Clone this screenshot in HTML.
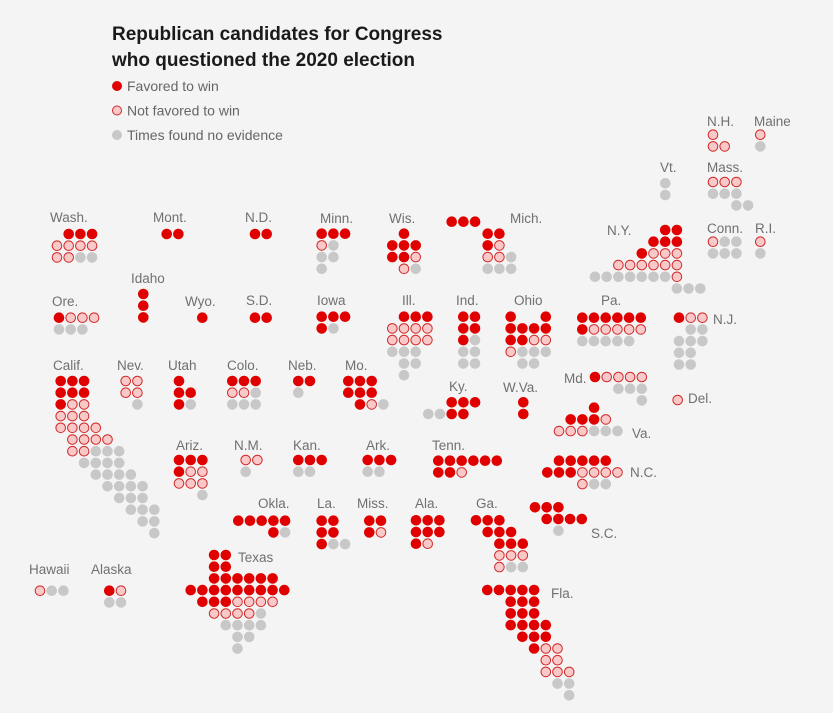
<!DOCTYPE html>
<html><head><meta charset="utf-8"><style>
body{margin:0;background:#f4f4f4;}
#wrap{position:relative;width:833px;height:713px;overflow:hidden;background:#f4f4f4;font-family:"Liberation Sans",sans-serif;}
svg{position:absolute;left:0;top:0;}
.t{font-family:"Liberation Sans",sans-serif;font-weight:bold;font-size:19px;fill:#1a1a1a;}
.lg{font-size:14px;fill:#666;}
.lb{font-size:13.5px;fill:#707070;}
</style></head><body>
<div id="wrap">
<svg id="s" width="833" height="713">
<text class="t" x="112" y="40">Republican candidates for Congress</text>
<text class="t" x="112" y="66">who questioned the 2020 election</text>
<g>
<circle cx="117" cy="86" r="5" fill="#e00000"/>
<text class="lg" x="127" y="91">Favored to win</text>
<circle cx="117" cy="110.5" r="4.5" fill="#f9c8c8" stroke="#d02828" stroke-width="1"/>
<text class="lg" x="127" y="115.5">Not favored to win</text>
<circle cx="117" cy="135" r="5" fill="#c8c8c8"/>
<text class="lg" x="127" y="140">Times found no evidence</text>
</g>
</svg>
</div>
<script>
// Data: state names, dot patterns (R favored, P not favored, G no evidence)
const states = ["Wash.","Mont.","N.D.","Idaho","Ore.","Wyo.","S.D.","Minn.","Wis.","Mich.top","Mich.","Iowa","Ill.","Ind.","Ohio","N.H.","Maine","Vt.","Mass.","N.Y.","Conn.","R.I.","Calif.","Nev.","Utah","Colo.","Neb.","Mo.","Ariz.","N.M.","Kan.","Ark.","Okla.","La.","Miss.","Pa.","N.J.","Md.","Del.","Ky.","W.Va.","Va.","Tenn.","N.C.","Hawaii","Alaska","Texas","Ala.","Ga.","S.C.","Fla."];
const patterns = [
[".RRR","PPPP","PPGG"],["RR"],["RR"],["R","R","R"],["RPPP","GGG"],["R"],["RR"],
["RRR","PG","GG","G"],[".R.","RRR","RRP",".PG"],["RRR"],["RR.","RP.","PPG","GGG"],
["RRR","RG"],[".RRR","PPPP","PPPP","GGG.",".GG.",".G.."],["RR","RR","RG","GG","GG"],
["R..R","RRRR","RRPP","PGGG",".GG."],
["P.","PP"],["P","G"],["G","G"],["PPP.","GGG.","..GG"],
["......RR",".....RRR","....RPPP","..PPPPPP","GGGGGGGP",".......GGG"],["PGG","GGG"],["P","G"],
["RRR","RRR","RPP","PPP","PPPP",".PPPP",".PPGGG","..GGGG","...GGGG","....GGGG",".....GGG","......GGG",".......GG","........G"],
["PP","PP",".G"],["R.","RR","RG"],["RRR","PPG","GGG"],["RR","G"],["RRR","RRR",".RPG"],
["RRR","RPP","PPP","..G"],["PP","G"],["RRR","GG"],["RRR","GG"],
["RRRRR","...RG"],["RR","RR","RGG"],["RR","RP"],
["RRRRRR","RPPPPP","GGGGG"],["RPP",".GG","GGG","GG","GG"],["RPPPP","..GGG","....G"],["P"],
["..RRR","GGRR"],["R","R"],["...R",".RRRP","PPPGGG"],["RRRRRR","RRP"],
[".RRRRR","RRRPPPP","...PGG"],
["PGG"],["RP","GG"],
["..RR","..RR","..RRRRRR","RRRRRRRRR",".RRRPPPP","..PPPPG","...GGGG","....GG","....G"],
["RRR","RRR","RP"],["RRR.",".RRR","..RRR","..PPP","..PGG"],["RRR",".RRRR","..G"],
["RRRRR","..RRR","..RRR","..RRRR","...RRR","....RPP",".....PP",".....PPP","......GG",".......G"]
];
// layout (not data): grid origins per state
const origins = [[57,234],[166.7,234],[255,234],[143.3,294],[59,317.7],[202.3,317.7],[255,317.7],
[321.7,233.7],[392.3,233.7],[451.7,221.7],[487.7,233.7],[321.7,316.7],[392.3,316.7],[463.3,316.7],[510.7,316.7],
[713,134.7],[760.3,134.7],[665.3,183.3],[713,182],[595,230],[713,241.7],[760.3,241.7],
[60.7,381],[125.7,381],[179,381],[232.3,381],[298.3,381],[348.3,381],[179,460],[245.7,460],[298.3,460],[367.7,460],
[238.3,520.7],[321.7,520.7],[369.3,520.7],[582.3,317.7],[679,317.7],[595,377],[677.7,400],
[428.3,402.3],[523.3,402.3],[559,407.7],[438.3,460.7],[547.3,460.7],[40,590.7],[109.3,590.7],
[190.7,555],[416,520.3],[476,520.3],[535,507.3],[487.3,590]];
const labels = ["Wash.","Mont.","N.D.","Minn.","Wis.","Mich.","N.Y.","Conn.","R.I.","N.H.","Maine","Vt.","Mass.","Idaho","Ore.","Wyo.","S.D.","Iowa","Ill.","Ind.","Ohio","Pa.","N.J.","Calif.","Nev.","Utah","Colo.","Neb.","Mo.","Md.","Ky.","W.Va.","Del.","Va.","Ariz.","N.M.","Kan.","Ark.","Tenn.","N.C.","Okla.","La.","Miss.","Ala.","Ga.","S.C.","Texas","Hawaii","Alaska","Fla."];
const labelPos = [[50,222],[153,222],[245,222],[320,223],[389,223],[510,223],[607,235],[707,233],[755,233],[707,126],[754,126],[660,172],[707,172],[131,283],[52,306],[185,306],[246,305],[317,305],[402,305],[456,305],[514,305],[601,305],[713,324],[53,370],[117,370],[168,370],[227,370],[288,370],[345,370],[564,383],[449,391],[503,392],[688,403],[632,438],[176,450],[234,450],[293,450],[366,450],[432,450],[630,477],[258,508],[317,508],[357,508],[415,508],[476,508],[591,538],[238,562],[29,574],[91,574],[551,598]];
const STEP = 11.7;
const NS = "http://www.w3.org/2000/svg";
const svg = document.getElementById('s');
const sx = (o, c) => o + c * STEP;
const sy = (o, r) => o + r * STEP;
patterns.forEach((rows, i) => {
  const g = document.createElementNS(NS, 'g');
  
  
  rows.forEach((row, r) => {
    [...row].forEach((ch, c) => {
      if (ch === '.') return;
      const d = document.createElementNS(NS, 'circle');
      d.setAttribute('cx', sx(origins[i][0], c));
      d.setAttribute('cy', sy(origins[i][1], r));
      if (ch === 'R') { d.setAttribute('r', 5.3); d.setAttribute('fill', '#e00000'); }
      else if (ch === 'P') { d.setAttribute('r', 4.8); d.setAttribute('fill', '#f9c8c8'); d.setAttribute('stroke', '#d02828'); d.setAttribute('stroke-width', '1'); }
      else { d.setAttribute('r', 5.3); d.setAttribute('fill', '#c8c8c8'); }
      
      
      g.appendChild(d);
    });
  });
  svg.appendChild(g);
});
labels.forEach((l, i) => {
  const t = document.createElementNS(NS, 'text');
  t.setAttribute('x', labelPos[i][0]);
  t.setAttribute('y', labelPos[i][1]);
  t.setAttribute('class', 'lb');
  t.textContent = l;
  
  
  svg.appendChild(t);
});
</script>
</body></html>
